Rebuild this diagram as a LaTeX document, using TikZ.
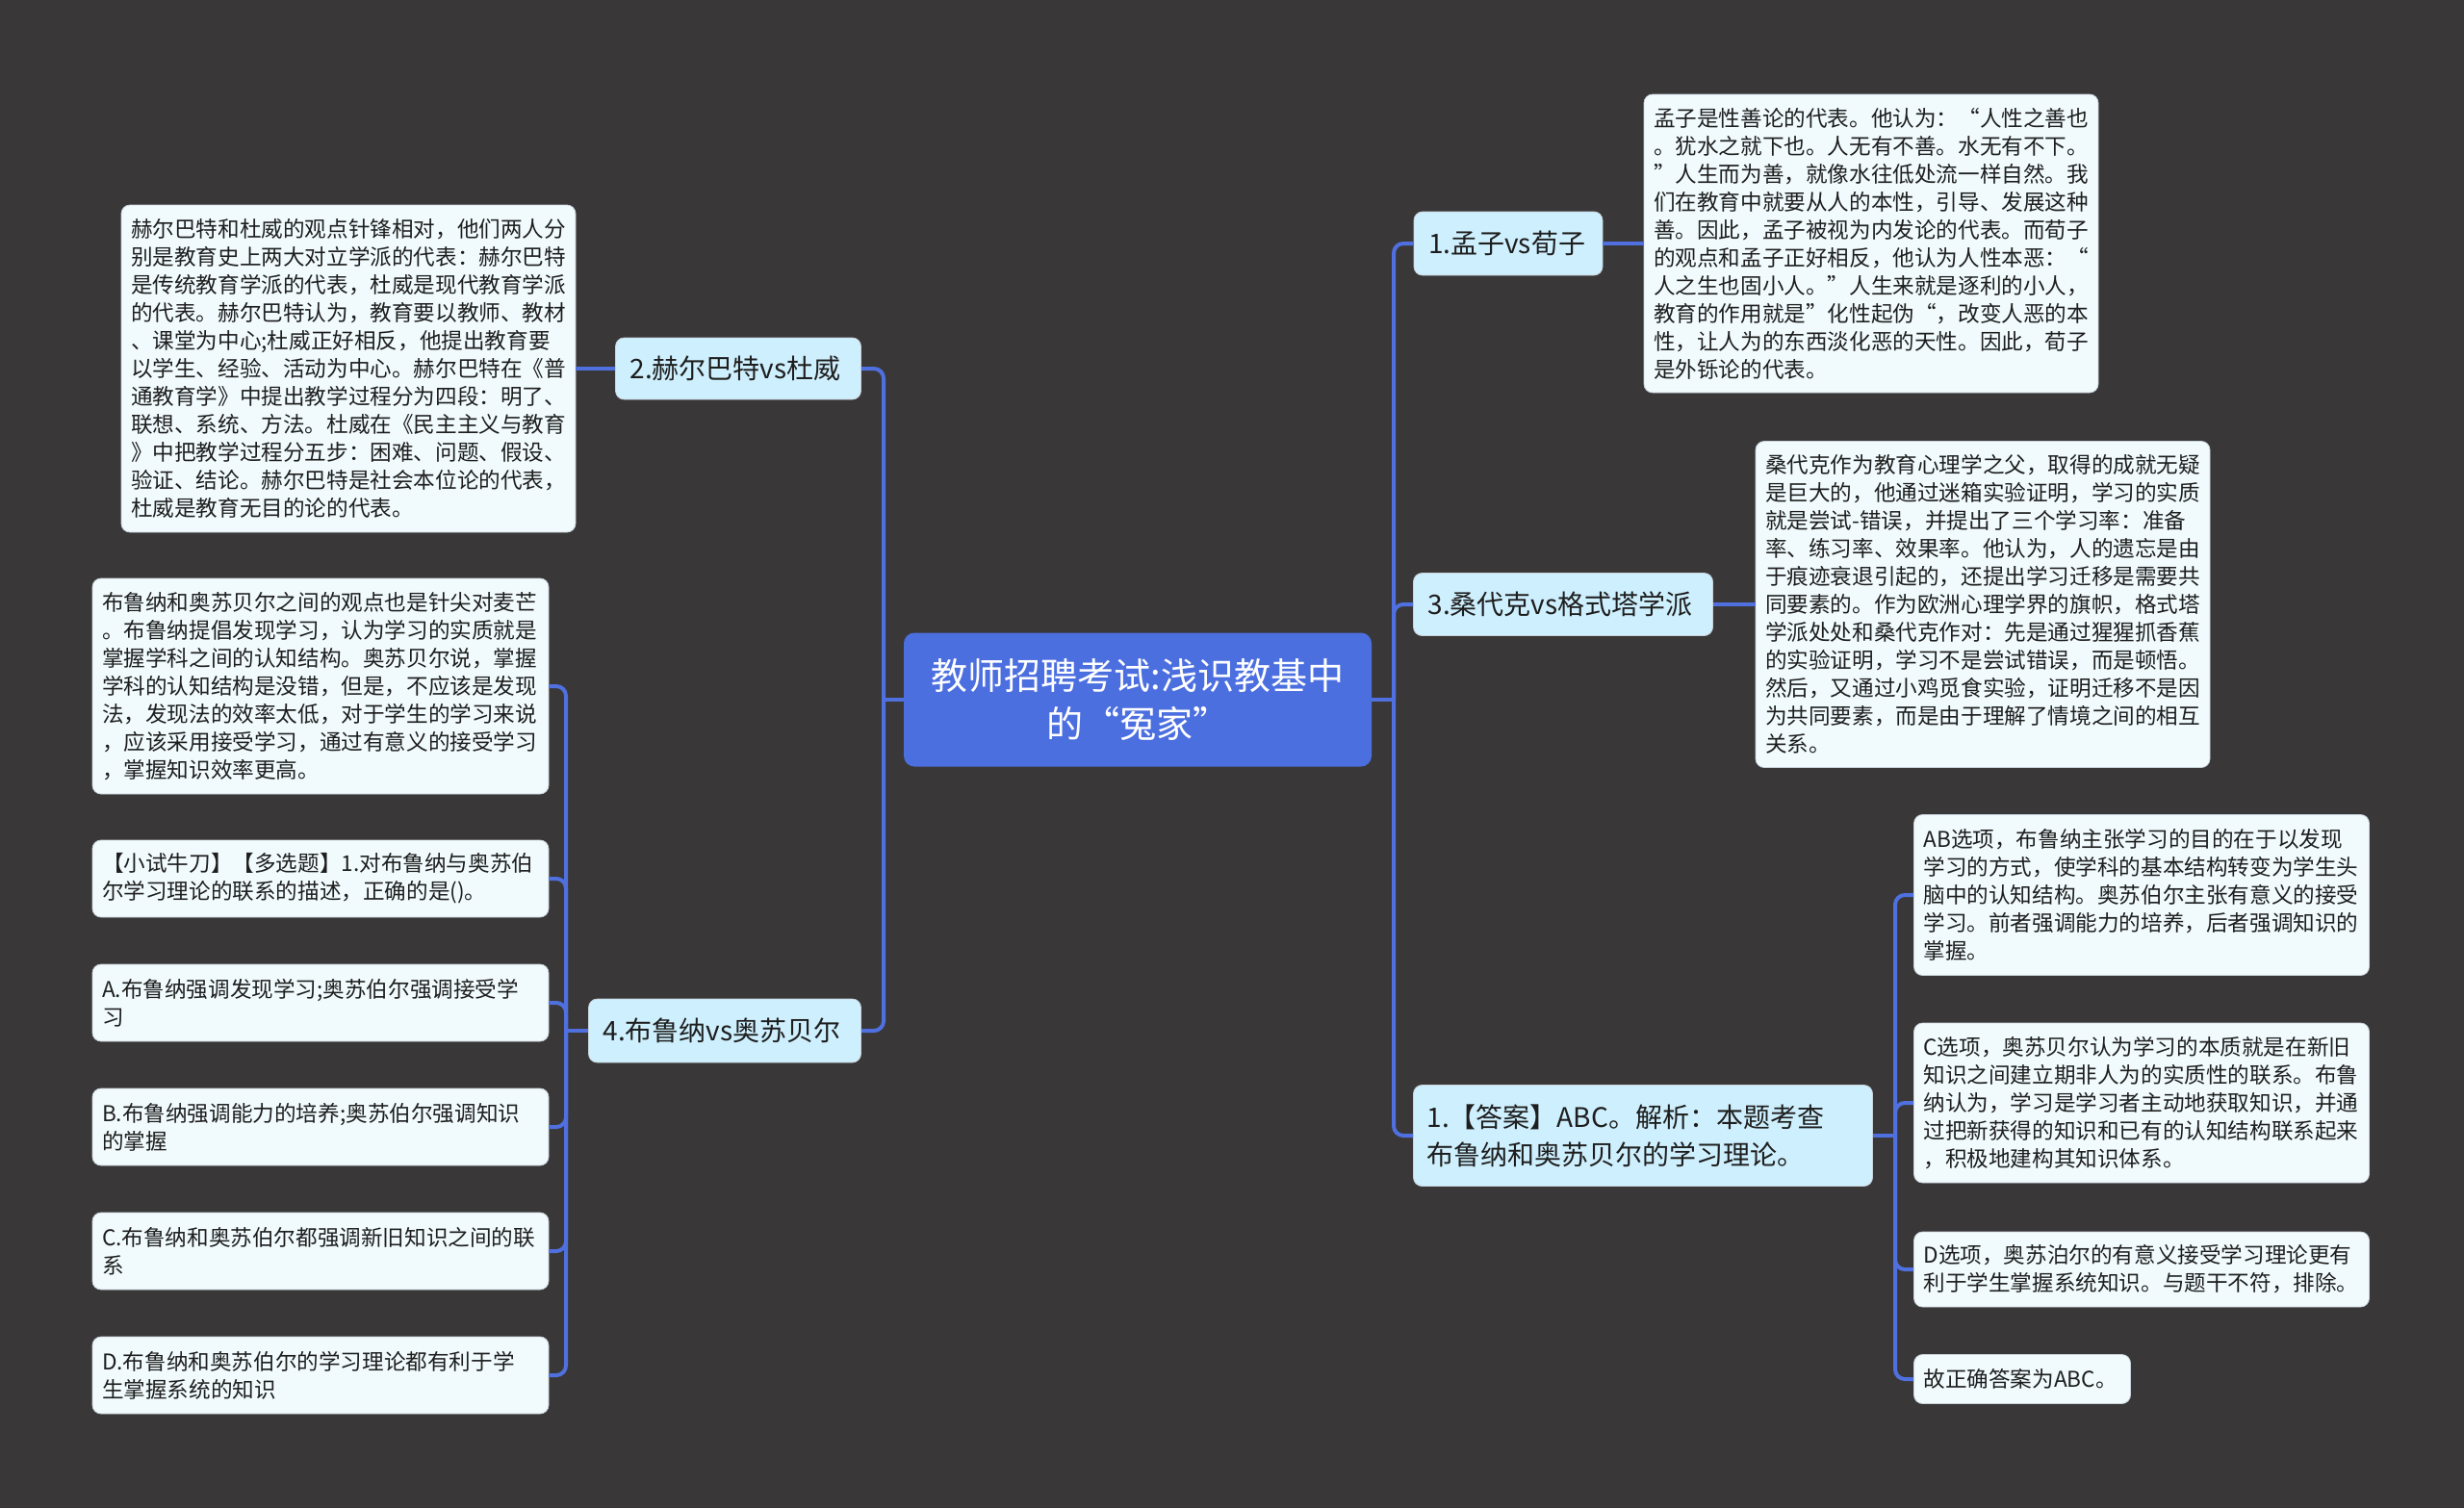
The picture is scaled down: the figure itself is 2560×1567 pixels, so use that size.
\documentclass[tikz,border=0pt]{standalone}
\usepackage{fontspec}
\setmainfont{Noto Sans CJK SC}
\definecolor{bgc}{RGB}{57,55,56}
\definecolor{linec}{RGB}{79,112,222}
\definecolor{rootc}{RGB}{76,111,224}
\definecolor{brc}{RGB}{206,239,253}
\definecolor{leafc}{RGB}{241,251,254}
\definecolor{leafb}{RGB}{200,210,218}
\definecolor{txt}{RGB}{30,30,30}
\tikzset{
  conn/.style={draw=linec, line width=4pt},
  leaf/.style={fill=leafc, draw=leafb, line width=0.8pt, rounded corners=9pt, align=left, inner xsep=10pt, inner ysep=0pt, text=txt, font=\fontsize{22.6}{29}\selectfont},
  br/.style={fill=brc, draw=leafb, line width=0.8pt, rounded corners=9pt, align=left, inner xsep=15pt, inner ysep=0pt, text=txt, font=\fontsize{28}{39}\selectfont},
  root/.style={fill=rootc, rounded corners=11pt, align=center, inner sep=0pt, text=white, font=\fontsize{38}{50}\selectfont}
}
\begin{document}
\begin{tikzpicture}[x=1pt,y=-1pt]
\fill[bgc] (0,0) rectangle (2560,1567);
\useasboundingbox (0,0) rectangle (2560,1567);

% root
\node[root, minimum width=486pt, minimum height=139pt] (root) at (1182,727) {教师招聘考试:浅识教基中\\的“冤家”};

% left branches
\node[br, text width=225pt, minimum height=64pt] (b2) at (767,383) {2.赫尔巴特vs杜威};
\node[br, text width=253pt, minimum height=66pt] (b4) at (753,1071) {4.布鲁纳vs奥苏贝尔};

% right branches
\node[br, text width=166pt, minimum height=66pt] (r1) at (1567,253) {1.孟子vs荀子};
\node[br, text width=281pt, minimum height=65pt] (r3) at (1624,628) {3.桑代克vs格式塔学派};
\node[br, text width=449pt, minimum height=105pt, inner xsep=14pt] (ra) at (1707,1180) {1.【答案】ABC。解析：本题考查\\布鲁纳和奥苏贝尔的学习理论。};

% leaves left
\node[leaf, text width=452pt, minimum height=340pt] (hb) at (362,383) {赫尔巴特和杜威的观点针锋相对，他们两人分\\别是教育史上两大对立学派的代表：赫尔巴特\\是传统教育学派的代表，杜威是现代教育学派\\的代表。赫尔巴特认为，教育要以教师、教材\\、课堂为中心;杜威正好相反，他提出教育要\\以学生、经验、活动为中心。赫尔巴特在《普\\通教育学》中提出教学过程分为四段：明了、\\联想、系统、方法。杜威在《民主主义与教育\\》中把教学过程分五步：困难、问题、假设、\\验证、结论。赫尔巴特是社会本位论的代表，\\杜威是教育无目的论的代表。};

\node[leaf, text width=454pt, minimum height=224pt] (l0) at (333,713) {布鲁纳和奥苏贝尔之间的观点也是针尖对麦芒\\。布鲁纳提倡发现学习，认为学习的实质就是\\掌握学科之间的认知结构。奥苏贝尔说，掌握\\学科的认知结构是没错，但是，不应该是发现\\法，发现法的效率太低，对于学生的学习来说\\，应该采用接受学习，通过有意义的接受学习\\，掌握知识效率更高。};
\node[leaf, text width=454pt, minimum height=80pt] (l1) at (333,913) {【小试牛刀】【多选题】1.对布鲁纳与奥苏伯\\尔学习理论的联系的描述，正确的是()。};
\node[leaf, text width=454pt, minimum height=80pt] (l2) at (333,1042) {A.布鲁纳强调发现学习;奥苏伯尔强调接受学\\习};
\node[leaf, text width=454pt, minimum height=80pt] (l3) at (333,1171) {B.布鲁纳强调能力的培养;奥苏伯尔强调知识\\的掌握};
\node[leaf, text width=454pt, minimum height=80pt] (l4) at (333,1300) {C.布鲁纳和奥苏伯尔都强调新旧知识之间的联\\系};
\node[leaf, text width=454pt, minimum height=80pt] (l5) at (333,1429) {D.布鲁纳和奥苏伯尔的学习理论都有利于学\\生掌握系统的知识};

% leaves right
\node[leaf, text width=452pt, minimum height=310pt] (mz) at (1944,253) {孟子是性善论的代表。他认为：“人性之善也\\。犹水之就下也。人无有不善。水无有不下。\\”人生而为善，就像水往低处流一样自然。我\\们在教育中就要从人的本性，引导、发展这种\\善。因此，孟子被视为内发论的代表。而荀子\\的观点和孟子正好相反，他认为人性本恶：“\\人之生也固小人。”人生来就是逐利的小人，\\教育的作用就是”化性起伪“，改变人恶的本\\性，让人为的东西淡化恶的天性。因此，荀子\\是外铄论的代表。};
\node[leaf, text width=452pt, minimum height=339pt] (sd) at (2060,628) {桑代克作为教育心理学之父，取得的成就无疑\\是巨大的，他通过迷箱实验证明，学习的实质\\就是尝试-错误，并提出了三个学习率：准备\\率、练习率、效果率。他认为，人的遗忘是由\\于痕迹衰退引起的，还提出学习迁移是需要共\\同要素的。作为欧洲心理学界的旗帜，格式塔\\学派处处和桑代克作对：先是通过猩猩抓香蕉\\的实验证明，学习不是尝试错误，而是顿悟。\\然后，又通过小鸡觅食实验，证明迁移不是因\\为共同要素，而是由于理解了情境之间的相互\\关系。};

\node[leaf, text width=453pt, minimum height=167pt] (a1) at (2225,930) {AB选项，布鲁纳主张学习的目的在于以发现\\学习的方式，使学科的基本结构转变为学生头\\脑中的认知结构。奥苏伯尔主张有意义的接受\\学习。前者强调能力的培养，后者强调知识的\\掌握。};
\node[leaf, text width=453pt, minimum height=166pt] (a2) at (2225,1146) {C选项，奥苏贝尔认为学习的本质就是在新旧\\知识之间建立期非人为的实质性的联系。布鲁\\纳认为，学习是学习者主动地获取知识，并通\\过把新获得的知识和已有的认知结构联系起来\\，积极地建构其知识体系。};
\node[leaf, text width=453pt, minimum height=78pt] (a3) at (2225,1319) {D选项，奥苏泊尔的有意义接受学习理论更有\\利于学生掌握系统知识。与题干不符，排除。};
\node[leaf, text width=205pt, minimum height=51pt] (a4) at (2101,1433) {故正确答案为ABC。};

% connectors
\coordinate (LS) at (918,727);
\coordinate (RS) at (1448,727);
\coordinate (S4) at (588,1071);
\coordinate (SA) at (1969,1180);

\draw[conn] (root.west) -- (LS);
\draw[conn, rounded corners=10pt] (LS) |- (b2.east);
\draw[conn, rounded corners=10pt] (LS) |- (b4.east);
\draw[conn] (root.east) -- (RS);
\draw[conn, rounded corners=10pt] (RS) |- (r1.west);
\draw[conn, rounded corners=10pt] (RS) |- (r3.west);
\draw[conn, rounded corners=10pt] (RS) |- (ra.west);

\draw[conn] (b2.west) -- (hb.east);
\draw[conn] (r1.east) -- (mz.west);
\draw[conn] (r3.east) -- (sd.west);

\draw[conn] (b4.west) -- (S4);
\foreach \n in {l0,l1,l2,l3,l4,l5}{
  \draw[conn, rounded corners=10pt] (S4) |- (\n.east);
}
\draw[conn] (ra.east) -- (SA);
\foreach \n in {a1,a2,a3,a4}{
  \draw[conn, rounded corners=10pt] (SA) |- (\n.west);
}
\end{tikzpicture}
\end{document}
